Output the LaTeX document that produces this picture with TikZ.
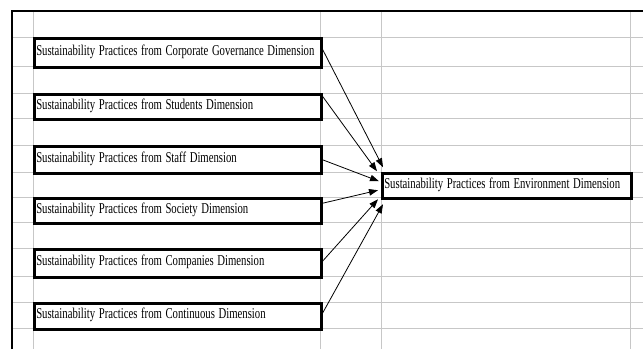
\documentclass[tikz,border=0pt]{standalone}
\usepackage{fontspec}
\setmainfont{Liberation Serif}
\usetikzlibrary{arrows.meta,calc}
\newcommand{\cond}[1]{\scalebox{0.715}[1]{#1}}
\begin{document}
\begin{tikzpicture}[x=1pt,y=-1pt,
  grid/.style={draw=black!22, line width=1pt},
  frame/.style={draw=black, line width=2pt},
  dimbox/.style={draw=black, line width=2.5pt, rectangle, anchor=north west,
    inner xsep=2pt, inner ysep=0pt, align=left,
    font=\fontsize{15}{15}\selectfont, text height=10pt, text depth=5pt},
  link/.style={draw=black, line width=0.8pt, -{Triangle[length=9pt,width=6.5pt]}}]
\fill[white] (0,0) rectangle (643,349);
\useasboundingbox (0,0) rectangle (643,349);
% spreadsheet grid
\foreach \y in {37,66,93,118,145,172,197,222,248,276,302,328}
  \draw[grid] (12,\y) -- (643,\y);
\foreach \x in {33,320,381,630}
  \draw[grid] (\x,11) -- (\x,349);
\draw[frame] (12,349) -- (12,11) -- (643,11);
% boxes
\node[dimbox, text width=283pt, minimum height=29pt] (b1) at (33,37)
  {\cond{Sustainability Practices from Corporate Governance Dimension}};
\node[dimbox, text width=283pt, minimum height=25pt] (b2) at (33,93)
  {\cond{Sustainability Practices from Students Dimension}};
\node[dimbox, text width=283pt, minimum height=27pt] (b3) at (33,145)
  {\cond{Sustainability Practices from Staff Dimension}};
\node[dimbox, text width=283pt, minimum height=25pt] (b4) at (33,197)
  {\cond{Sustainability Practices from Society Dimension}};
\node[dimbox, text width=283pt, minimum height=28pt] (b5) at (33,248)
  {\cond{Sustainability Practices from Companies Dimension}};
\node[dimbox, text width=283pt, minimum height=26pt] (b6) at (33,302)
  {\cond{Sustainability Practices from Continuous Dimension}};
\node[dimbox, text width=245pt, minimum height=25pt] (c) at (381,172)
  {\cond{Sustainability Practices from Environment Dimension}};
% arrows
\draw[link] ([yshift=3.5pt]b1.east) -- ([xshift=2pt,yshift=18.5pt]c.west);
\draw[link] ([yshift=10.5pt]b2.east) -- ([xshift=-4pt,yshift=14.5pt]c.west);
\draw[link] (b3.east) -- ([xshift=-2pt,yshift=4.5pt]c.west);
\draw[link] ([yshift=7.5pt]b4.east) -- ([xshift=-3pt,yshift=-4.5pt]c.west);
\draw[link] ([yshift=2pt]b5.east) -- ([xshift=-3pt,yshift=-13.5pt]c.west);
\draw[link] ([yshift=3pt]b6.east) -- ([xshift=2pt,yshift=-18.5pt]c.west);
\end{tikzpicture}
\end{document}
